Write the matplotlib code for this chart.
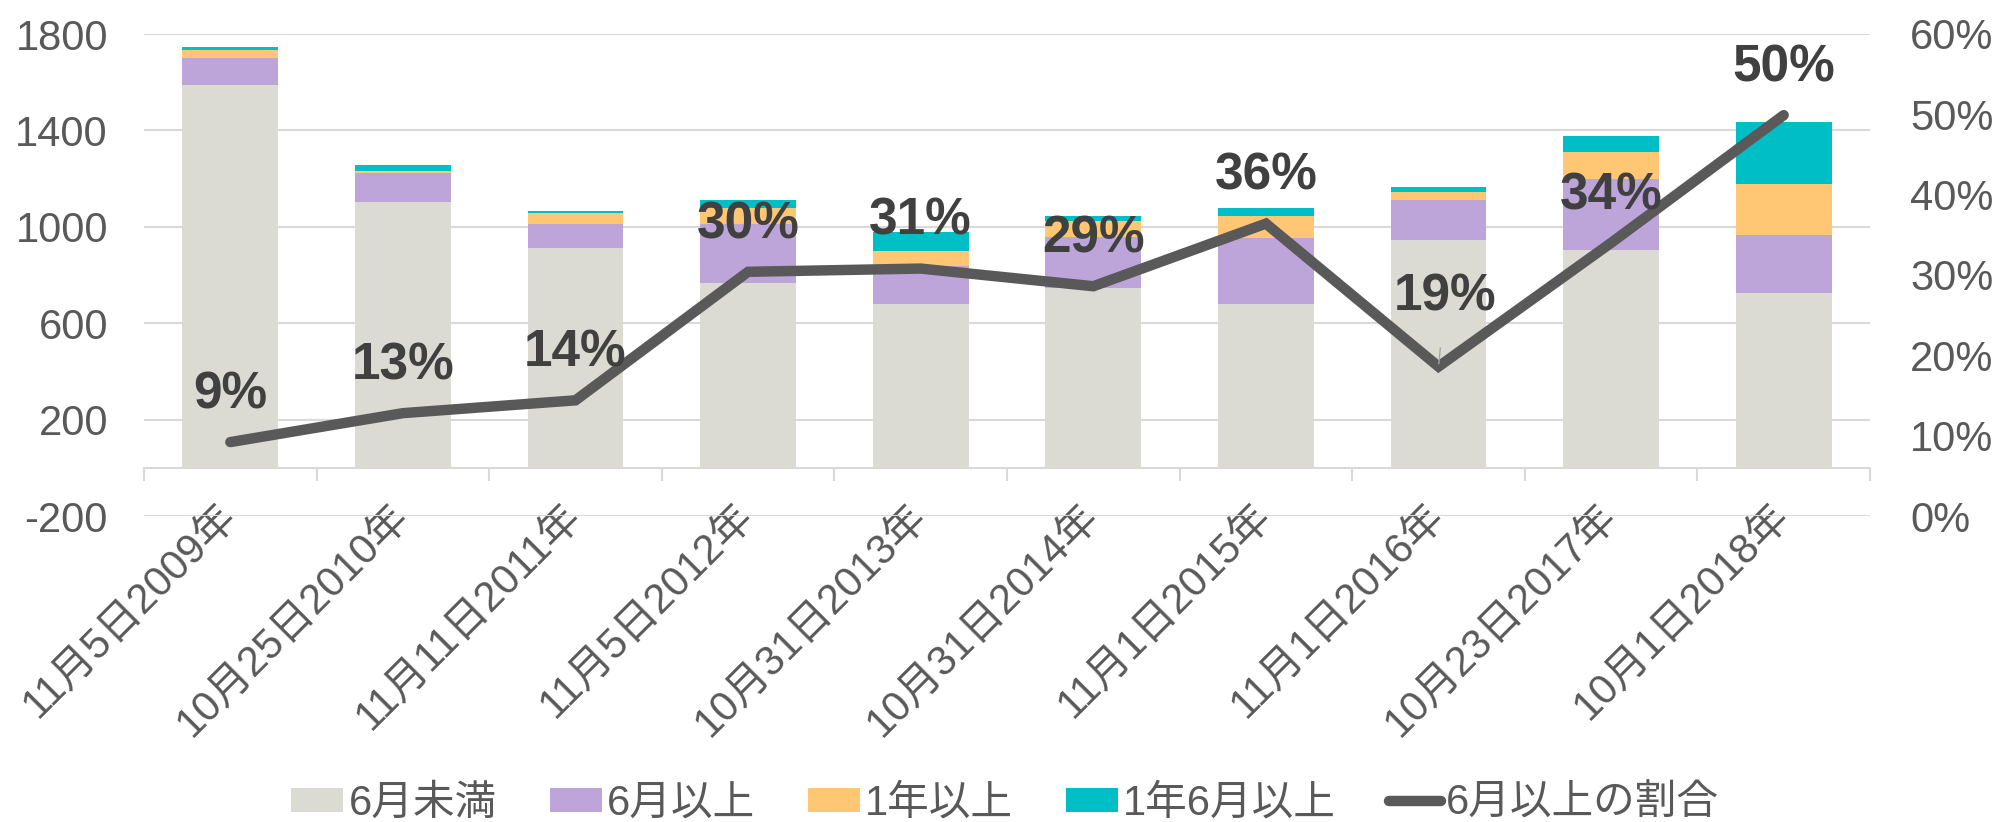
import numpy as np
import matplotlib
matplotlib.use("Agg")
import matplotlib.pyplot as plt
from matplotlib.ticker import FixedLocator, FuncFormatter

plt.rcParams["font.family"] = ["Liberation Sans", "Noto Sans CJK JP", "DejaVu Sans"]
plt.rcParams["axes.unicode_minus"] = False

# data
dates = ["11月5日2009年", "10月25日2010年", "11月11日2011年", "11月5日2012年", "10月31日2013年",
         "10月31日2014年", "11月1日2015年", "11月1日2016年", "10月23日2017年", "10月1日2018年"]
under_6m = [1590, 1102, 912, 768, 678, 745, 678, 945, 903, 724]
over_6m = [109, 120, 99, 243, 160, 211, 276, 166, 296, 243]
over_1y = [34, 11, 45, 67, 62, 69, 91, 34, 112, 211]
over_1y6m = [12, 24, 11, 33, 77, 20, 33, 22, 67, 255]
share_6m = [0.092, 0.128, 0.144, 0.304, 0.308, 0.286, 0.364, 0.186, 0.34, 0.499]

series_names = ["6月未満", "6月以上", "1年以上", "1年6月以上"]
line_name = "6月以上の割合"
colors = ["#DBDBD3", "#BDA5D9", "#FFC774", "#00BEC5"]
line_color = "#595959"
text_color = "#595959"
label_color = "#404040"
grid_color = "#D9D9D9"

fig = plt.figure(figsize=(19.98, 8.22), dpi=100)
ax = fig.add_axes([144 / 1998, 1 - 516 / 822, (1870 - 144) / 1998, (516 - 34) / 822])
ax2 = ax.twinx()

x = np.arange(len(dates))
bottom = np.zeros(len(dates))
handles = []
for vals, name, c in zip([under_6m, over_6m, over_1y, over_1y6m], series_names, colors):
    b = ax.bar(x, vals, width=0.555, bottom=bottom, color=c, label=name, zorder=2)
    handles.append(b)
    bottom += np.array(vals)

ax.set_xlim(-0.5, len(dates) - 0.5)
ax.set_ylim(-200, 1800)
ax.set_yticks(np.arange(-200, 1801, 400))
ax.grid(axis="y", color=grid_color, lw=1.5, zorder=0)
ax.set_axisbelow(True)
for s in ax.spines.values():
    s.set_visible(False)
ax.tick_params(axis="y", length=0, pad=26, labelsize=30, labelcolor=text_color)

# category labels, rotated
ax.set_xticks(x)
ax.set_xticklabels(dates)
ax.tick_params(axis="x", length=0, pad=-4, labelsize=30, labelcolor=text_color)
for lab in ax.get_xticklabels():
    lab.set_rotation(45)
    lab.set_ha("right")
    lab.set_va("center")
    lab.set_rotation_mode("anchor")

# category axis at zero with boundary ticks
sec = ax.secondary_xaxis(0.1)
sec.set_alignment("bottom")
sec.xaxis.set_major_locator(FixedLocator(np.arange(-0.5, len(dates), 1)))
sec.xaxis.set_major_formatter(FuncFormatter(lambda v, p: ""))
sec.tick_params(axis="x", direction="out", length=9, width=1.5, color=grid_color)
sec.spines["bottom"].set_color(grid_color)
sec.spines["bottom"].set_linewidth(1.5)

# share line on secondary axis
ln, = ax2.plot(x, share_6m, color=line_color, lw=7.5, solid_capstyle="round",
               solid_joinstyle="miter", label=line_name, zorder=3)
ax2.set_ylim(0, 0.6)
ax2.set_yticks(np.arange(0, 0.61, 0.1))
ax2.yaxis.set_major_formatter(FuncFormatter(lambda v, p: f"{v * 100:.0f}%"))
ax2.tick_params(axis="y", length=0, pad=29, labelsize=30, labelcolor=text_color)
for s in ax2.spines.values():
    s.set_visible(False)

for i, v in enumerate(share_6m):
    if i == 7:
        ax2.annotate(f"{v * 100:.0f}%", (x[i], v), xytext=(5, 50), textcoords="offset points",
                     ha="center", va="center", fontsize=37, fontweight="bold", color=label_color,
                     arrowprops=dict(arrowstyle="-", color="#A6A6A6", lw=1, shrinkA=17, shrinkB=2))
    else:
        ax2.annotate(f"{v * 100:.0f}%", (x[i], v), xytext=(0, 34), textcoords="offset points",
                     ha="center", va="center", fontsize=37, fontweight="bold", color=label_color)

leg = fig.legend(handles + [ln], series_names + [line_name], loc="center",
                 bbox_to_anchor=(0.503, 0.022), ncol=5, frameon=False, fontsize=30,
                 handlelength=1.25, handleheight=0.53, handletextpad=0.12, columnspacing=1.27)
for t in leg.get_texts():
    t.set_color(text_color)

fig.savefig("out.png", dpi=100)
